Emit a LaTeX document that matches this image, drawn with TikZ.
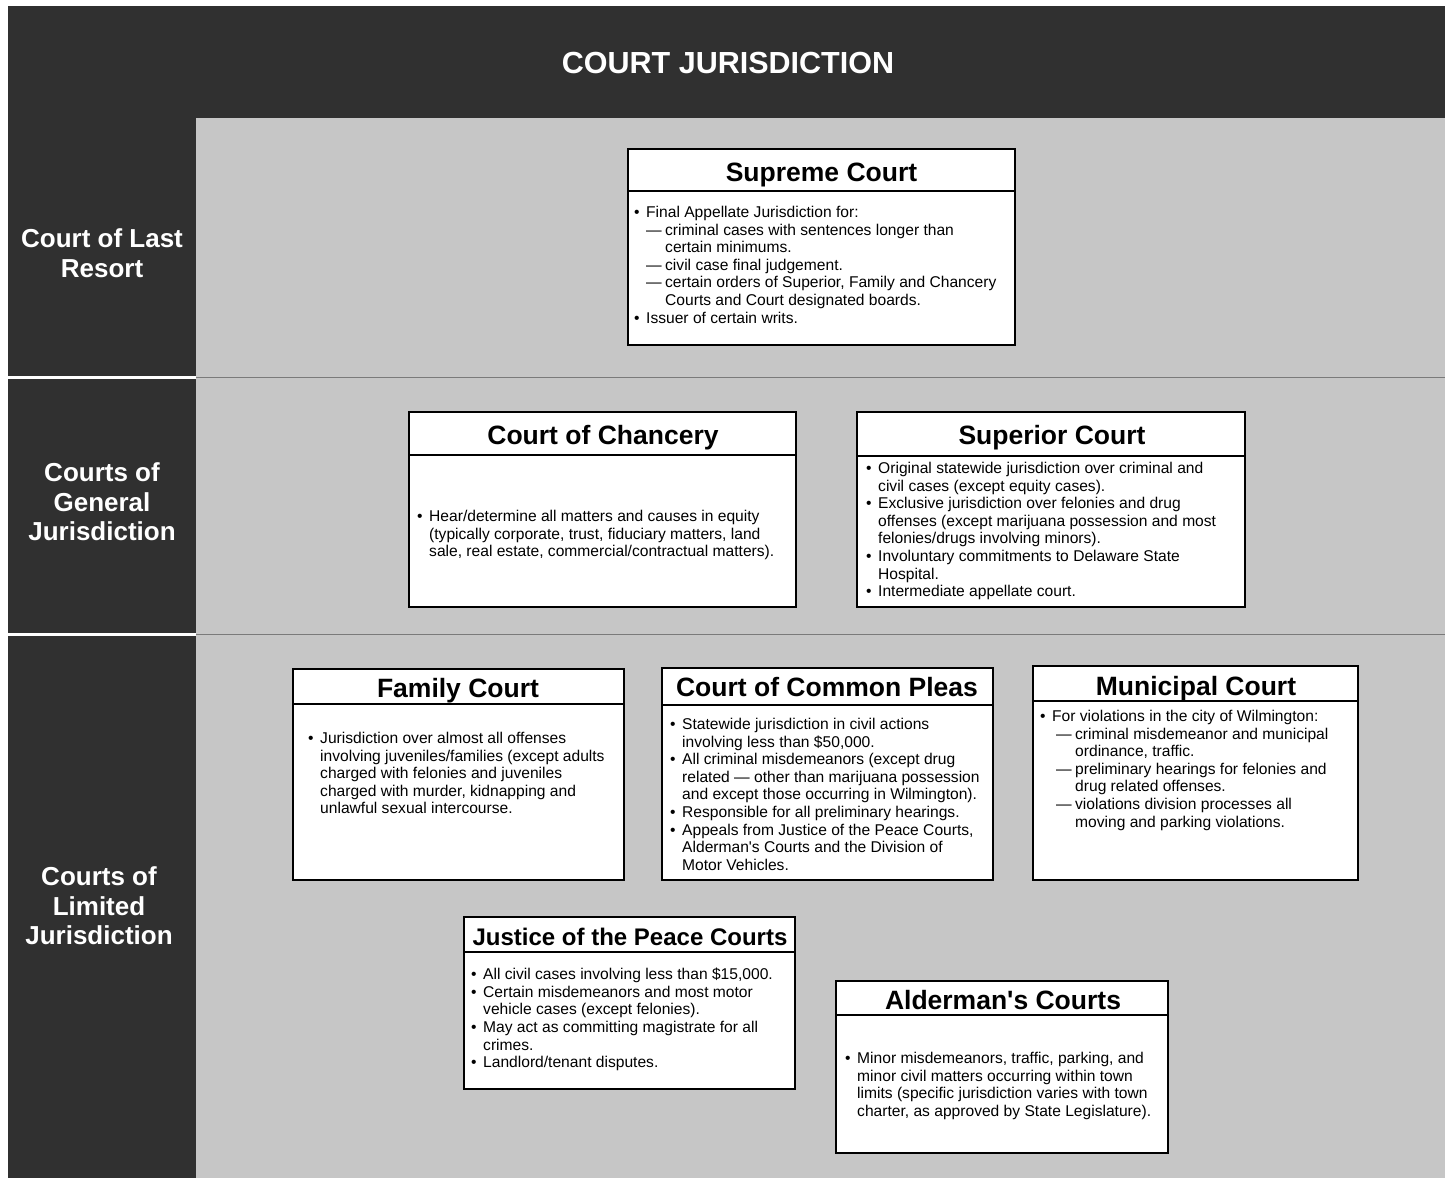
\documentclass[tikz,border=0pt]{standalone}
\usepackage{fontspec}
\setmainfont{Liberation Sans}
\definecolor{darkbg}{HTML}{303030}
\definecolor{halftone}{HTML}{C6C6C6}
\definecolor{sepline}{HTML}{7A7A7A}
\newcommand\mybul{\makebox[12pt][l]{\textbullet}}
\newcommand\myind{\hspace*{12pt}}
\newcommand\mydash{\makebox[19pt][l]{—}}
\newcommand\mycont{\hspace*{19pt}}
\tikzset{
  boxsty/.style={draw=black, line width=2.6pt, fill=white, rectangle, inner sep=0pt, outer sep=0pt, anchor=north west},
  divsty/.style={draw=black, line width=1.8pt},
  titlesty/.style={font=\bfseries\fontsize{26.5}{28}\selectfont, anchor=base, inner sep=0pt},
  bodysty/.style={font=\fontsize{15.6}{17.6}\selectfont, align=left, anchor=north west, inner sep=0pt},
  levelsty/.style={font=\bfseries\fontsize{26}{29.5}\selectfont, text=white, align=center, inner sep=0pt},
}
\newcommand\courtbox[6]{%
  \node[boxsty, minimum width={#4pt-#2pt}, minimum height={#5pt-#3pt}] (#1) at (#2,#3) {};
  \draw[divsty] (#1.west |- 0,#6) -- (#1.east |- 0,#6);
}
\begin{document}
\begin{tikzpicture}[x=1pt,y=-1pt]
\useasboundingbox (0,0) rectangle (1448,1178);
\fill[white] (0,0) rectangle (1448,1178);
% dark frame
\fill[darkbg] (8,6) rectangle (1445,1178);
% halftone area
\fill[halftone] (196,118) rectangle (1445,1178);
% separators
\draw[white, line width=3pt] (8,377) -- (196,377);
\draw[white, line width=3pt] (8,634) -- (196,634);
\draw[sepline, line width=1pt] (196,377) -- (1445,377);
\draw[sepline, line width=1pt] (196,634) -- (1445,634);

\node[font=\bfseries\fontsize{30.5}{32}\selectfont, text=white, anchor=base, inner sep=0pt] (title) at (728,73) {COURT JURISDICTION};

\node[levelsty] (lvl1) at (102,253) {Court of Last\\Resort};
\node[levelsty] (lvl2) at (102,502) {Courts of\\General\\Jurisdiction};
\node[levelsty] (lvl3) at (99,906) {Courts of\\Limited\\Jurisdiction};

% Supreme Court
\courtbox{sup}{628}{149}{1015}{345}{191}
\node[titlesty] (sup-t) at (821.5,181) {Supreme Court};
\node[bodysty] (sup-b) at (634,206) {\mybul Final Appellate Jurisdiction for:\\
\myind\mydash criminal cases with sentences longer than\\
\myind\mycont certain minimums.\\
\myind\mydash civil case final judgement.\\
\myind\mydash certain orders of Superior, Family and Chancery\\
\myind\mycont Courts and Court designated boards.\\
\mybul Issuer of certain writs.};

% Court of Chancery
\courtbox{chc}{409}{412}{796}{607}{455}
\node[titlesty] (chc-t) at (603,444) {Court of Chancery};
\node[bodysty] (chc-b) at (417,510) {\mybul Hear/determine all matters and causes in equity\\
\myind (typically corporate, trust, fiduciary matters, land\\
\myind sale, real estate, commercial/contractual matters).};

% Superior Court
\courtbox{spr}{857}{412}{1245}{607}{456}
\node[titlesty] (spr-t) at (1052,444) {Superior Court};
\node[bodysty] (spr-b) at (866,462) {\mybul Original statewide jurisdiction over criminal and\\
\myind civil cases (except equity cases).\\
\mybul Exclusive jurisdiction over felonies and drug\\
\myind offenses (except marijuana possession and most\\
\myind felonies/drugs involving minors).\\
\mybul Involuntary commitments to Delaware State\\
\myind Hospital.\\
\mybul Intermediate appellate court.};

% Family Court
\courtbox{fam}{293}{669}{624}{880}{704}
\node[titlesty] (fam-t) at (458,697) {Family Court};
\node[bodysty] (fam-b) at (308,732) {\mybul Jurisdiction over almost all offenses\\
\myind involving juveniles/families (except adults\\
\myind charged with felonies and juveniles\\
\myind charged with murder, kidnapping and\\
\myind unlawful sexual intercourse.};

% Court of Common Pleas
\courtbox{ccp}{662}{668}{993}{880}{705}
\node[titlesty] (ccp-t) at (827,696) {Court of Common Pleas};
\node[bodysty] (ccp-b) at (670,718) {\mybul Statewide jurisdiction in civil actions\\
\myind involving less than \$50,000.\\
\mybul All criminal misdemeanors (except drug\\
\myind related — other than marijuana possession\\
\myind and except those occurring in Wilmington).\\
\mybul Responsible for all preliminary hearings.\\
\mybul Appeals from Justice of the Peace Courts,\\
\myind Alderman\textquotesingle s Courts and the Division of\\
\myind Motor Vehicles.};

% Municipal Court
\courtbox{mun}{1033}{666}{1358}{880}{701}
\node[titlesty] (mun-t) at (1196,695) {Municipal Court};
\node[bodysty] (mun-b) at (1040,710) {\mybul For violations in the city of Wilmington:\\
\hspace*{16pt}\mydash criminal misdemeanor and municipal\\
\hspace*{35pt}ordinance, traffic.\\
\hspace*{16pt}\mydash preliminary hearings for felonies and\\
\hspace*{35pt}drug related offenses.\\
\hspace*{16pt}\mydash violations division processes all\\
\hspace*{35pt}moving and parking violations.};

% Justice of the Peace Courts
\courtbox{jpc}{464}{917}{795}{1089}{952}
\node[titlesty, font=\bfseries\fontsize{24}{26}\selectfont] (jpc-t) at (630,945) {Justice of the Peace Courts};
\node[bodysty] (jpc-b) at (471,968) {\mybul All civil cases involving less than \$15,000.\\
\mybul Certain misdemeanors and most motor\\
\myind vehicle cases (except felonies).\\
\mybul May act as committing magistrate for all\\
\myind crimes.\\
\mybul Landlord/tenant disputes.};

% Alderman's Courts
\courtbox{ald}{836}{981}{1168}{1153}{1015}
\node[titlesty] (ald-t) at (1003,1009) {Alderman\textquotesingle s Courts};
\node[bodysty] (ald-b) at (845,1052) {\mybul Minor misdemeanors, traffic, parking, and\\
\myind minor civil matters occurring within town\\
\myind limits (specific jurisdiction varies with town\\
\myind charter, as approved by State Legislature).};
\end{tikzpicture}
\end{document}
